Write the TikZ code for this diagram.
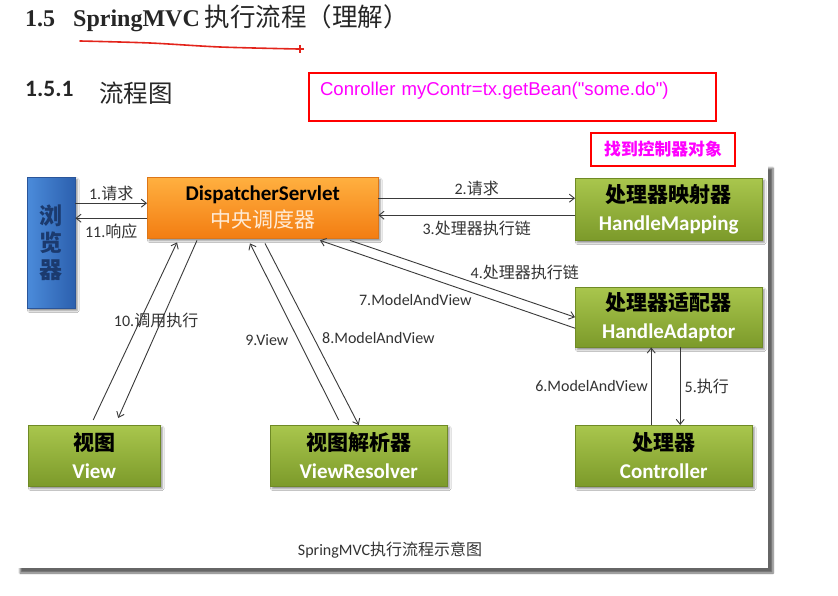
\documentclass[tikz,border=0pt]{standalone}
\usepackage{fontspec}
\setmainfont{Carlito}
\newfontfamily\cjk{Noto Sans CJK SC}
\newfontfamily\headfont{Liberation Serif}
\newfontfamily\codefont{Liberation Sans}
\usetikzlibrary{arrows.meta,positioning,calc,shadows.blur}
\newcommand{\zh}[1]{{\cjk #1}}
\definecolor{headgray}{HTML}{262626}
\definecolor{lblgray}{HTML}{333333}
\definecolor{linegray}{HTML}{3A3A3A}
\definecolor{penred}{HTML}{E3241B}
\definecolor{notered}{HTML}{FF0000}
\definecolor{notemag}{HTML}{FF00FF}
\definecolor{greentop}{HTML}{A9C64D}
\definecolor{greenbot}{HTML}{7C9A2A}
\definecolor{greenedge}{HTML}{6F8A25}
\definecolor{orangetop}{HTML}{FFB040}
\definecolor{orangebot}{HTML}{F37D12}
\definecolor{orangeedge}{HTML}{DD7618}
\definecolor{orangetext}{HTML}{FFEBD6}
\definecolor{blueL}{HTML}{4B8BDA}
\definecolor{blueR}{HTML}{2C60AE}
\definecolor{blueedge}{HTML}{2A5599}
\definecolor{bluetext}{HTML}{1B3A6E}
\tikzset{mvcbox/.style={anchor=north west,inner sep=0pt,align=center,
           blur shadow={shadow xshift=2pt,shadow yshift=-2.5pt,shadow blur steps=4,shadow opacity=45}},
         greenbox/.style={mvcbox,draw=greenedge,top color=greentop,bottom color=greenbot,
           font=\fontsize{21}{28}\selectfont\bfseries},
         flow/.style={-{Straight Barb[length=5pt,width=8pt]},draw=linegray,line width=0.9pt},
         lbl/.style={font=\fontsize{16}{18}\selectfont,text=lblgray,inner sep=2pt},
         notebox/.style={draw=notered,line width=2pt,anchor=north west,text=notemag}}

\begin{document}
\begin{tikzpicture}[x=1pt,y=-1pt]
\useasboundingbox (0,0) rectangle (838,596);
% headings and notes
\node[anchor=base west,inner sep=0pt,text=headgray] (head) at (25,27)
  {\fontsize{24}{28}\selectfont{\headfont\bfseries 1.5\hspace{18pt}SpringMVC}\hspace{5pt}{\fontsize{25.5}{28}\selectfont\zh{执行流程（理解）}}};
\draw[penred,line width=1.6pt,line cap=round] plot[smooth] coordinates {(80,41) (150,43) (220,47) (298,49)};
\draw[penred,line width=1.2pt] (300,45) -- (300,53) (296,49) -- (304,49);
\node[anchor=base west,inner sep=0pt,text=headgray] (sub) at (25,97)
  {{\fontsize{23.5}{24}\selectfont\bfseries 1.5.1}\hspace{26pt}\raisebox{-6pt}{\fontsize{24.5}{28}\selectfont\zh{流程图}}};
\path[fill=white,blur shadow={shadow xshift=5pt,shadow yshift=-5pt,shadow blur steps=6,shadow opacity=60}]
  (15,163) rectangle (768,568);
\node[notebox,inner xsep=11pt,inner ysep=5pt,text width=385pt,text height=18pt,text depth=20pt,
  align=left,font=\codefont\fontsize{18.6}{20}\selectfont] (code) at (308,72)
  {Conroller myContr=tx.getBean("some.do")};
\node[notebox,minimum width=144pt,minimum height=33pt,inner sep=0pt,
  font=\cjk\bfseries\fontsize{16.8}{18}\selectfont] (find) at (590,132) {找到控制器对象};
% boxes
\node[mvcbox,minimum width=48pt,minimum height=131pt,draw=blueedge,left color=blueL,right color=blueR,
  text=bluetext,font=\cjk\bfseries\fontsize{23}{27}\selectfont] (br) at (27,177) {浏\\览\\器};
\node[mvcbox,minimum width=231pt,minimum height=61pt,draw=orangeedge,top color=orangetop,
  bottom color=orangebot,font=\fontsize{21}{27}\selectfont] (ds) at (147,177)
  {\textbf{DispatcherServlet}\\{\color{orangetext}\zh{中央调度器}}};
\node[greenbox,minimum width=187pt,minimum height=62pt] (hm) at (575,178)
  {\zh{处理器映射器}\\{\color{white}HandleMapping}};
\node[greenbox,minimum width=187pt,minimum height=60pt] (ha) at (575,287)
  {\zh{处理器适配器}\\{\color{white}HandleAdaptor}};
\node[greenbox,minimum width=132pt,minimum height=61pt] (vw) at (28,425)
  {\zh{视图}\\{\color{white}View}};
\node[greenbox,minimum width=177pt,minimum height=61pt] (vr) at (270,425)
  {\zh{视图解析器}\\{\color{white}ViewResolver}};
\node[greenbox,minimum width=177pt,minimum height=61pt] (ct) at (575,425)
  {\zh{处理器}\\{\color{white}Controller}};
% connectors
\draw[flow] ([yshift=4.5pt]ds.west -| br.east) -- node[lbl,above] {1.\zh{请求}} ([yshift=4.5pt]ds.west);
\draw[flow] ([yshift=-10.5pt]ds.west) -- node[lbl,below=3pt] {11.\zh{响应}} ([yshift=-10.5pt]ds.west -| br.east);
\draw[flow] ([yshift=9.5pt]ds.east) -- node[lbl,above] {2.\zh{请求}} ([yshift=9.5pt]ds.east -| hm.west);
\draw[flow] ([yshift=-7.5pt]ds.east -| hm.west) -- node[lbl,below=3pt] {3.\zh{处理器执行链}} ([yshift=-7.5pt]ds.east);
\draw[flow] ([xshift=203pt,yshift=-2pt]ds.south west) -- node[lbl,pos=0.53,anchor=south west,inner sep=1pt] {4.\zh{处理器执行链}} (ha.west);
\draw[flow] ([xshift=16.5pt]ct.north |- ha.south) -- node[lbl,right=2pt] {5.\zh{执行}} ([xshift=16.5pt]ct.north);
\draw[flow] ([xshift=-12.5pt]ct.north) -- node[lbl,left=1pt] {6.ModelAndView} ([xshift=-12.5pt]ct.north |- ha.south);
\draw[flow] ([yshift=-11pt]ha.west) -- node[lbl,pos=0.4,anchor=north east,inner sep=1pt] {7.ModelAndView} ([xshift=173pt,yshift=-2pt]ds.south west);
\draw[flow] ([xshift=118pt,yshift=-5pt]ds.south west) -- node[lbl,pos=0.52,anchor=west,xshift=6pt] {8.ModelAndView} (vr.north);
\draw[flow] ([xshift=-20pt,yshift=5pt]vr.north) -- node[lbl,pos=0.45,anchor=east,xshift=-8pt] {9.View} ([xshift=103pt,yshift=-5pt]ds.south west);
\draw[flow] ([xshift=-1pt,yshift=5pt]vw.north) -- node[lbl,pos=0.56,xshift=16pt] {10.\zh{调用执行}} ([xshift=30pt,yshift=-4pt]ds.south west);
\draw[flow] ([xshift=50pt,yshift=-2pt]ds.south west) -- ([xshift=24pt,yshift=7pt]vw.north);
\node[lbl] (cap) at (390,550) {SpringMVC\zh{执行流程示意图}};
\end{tikzpicture}
\end{document}
